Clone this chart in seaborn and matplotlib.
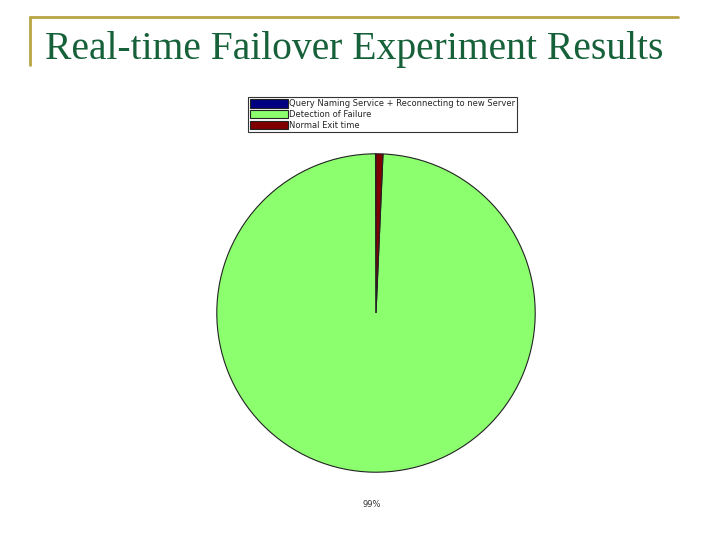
import matplotlib
matplotlib.use("Agg")
import matplotlib.pyplot as plt
import seaborn as sns
from matplotlib.lines import Line2D

sns.set_theme(style="white")

labels = ["Query Naming Service + Reconnecting to new Server",
          "Detection of Failure",
          "Normal Exit time"]
values = [0.05, 99.25, 0.7]
colors = ["#000080", "#8cff6e", "#800000"]

fig = plt.figure(figsize=(7.2, 5.4), dpi=100)
fig.patch.set_facecolor("white")

# slide decoration lines
fig.add_artist(Line2D([30 / 720, 678 / 720], [1 - 17 / 540, 1 - 17 / 540],
                      color="#b9a443", lw=2))
fig.add_artist(Line2D([30 / 720, 30 / 720], [1 - 17 / 540, 1 - 65 / 540],
                      color="#b9a443", lw=2))
fig.text(45 / 720, 1 - 50 / 540, "Real-time Failover Experiment Results",
         fontsize=28.5, color="#17613a", family="Liberation Serif",
         va="center", ha="left")

ax = fig.add_axes([216 / 720, 1 - 473 / 540, 320 / 720, 320 / 540])


def show_pct(p):
    return f"{p:.0f}%" if p > 50 else ""


wedges, texts, autotexts = ax.pie(
    values, colors=colors, startangle=90, autopct=show_pct, pctdistance=1.2,
    wedgeprops=dict(edgecolor="#222222", linewidth=0.8),
    textprops=dict(fontsize=6, color="#333333"),
)
ax.set_xlim(-1.005, 1.005)
ax.set_ylim(-1.005, 1.005)
ax.set_aspect("equal")
for t in autotexts:
    t.set_clip_on(False)

leg = fig.legend(wedges, labels, loc="upper left",
                 bbox_to_anchor=(248 / 720, 1 - 97 / 540),
                 fontsize=6, frameon=True, fancybox=False,
                 handlelength=4.5, handleheight=1.2, labelspacing=0.2,
                 borderpad=0.25, handletextpad=0.2, borderaxespad=0)
leg.get_frame().set_edgecolor("black")
leg.get_frame().set_linewidth(0.8)

fig.savefig("out.png", dpi=100)
